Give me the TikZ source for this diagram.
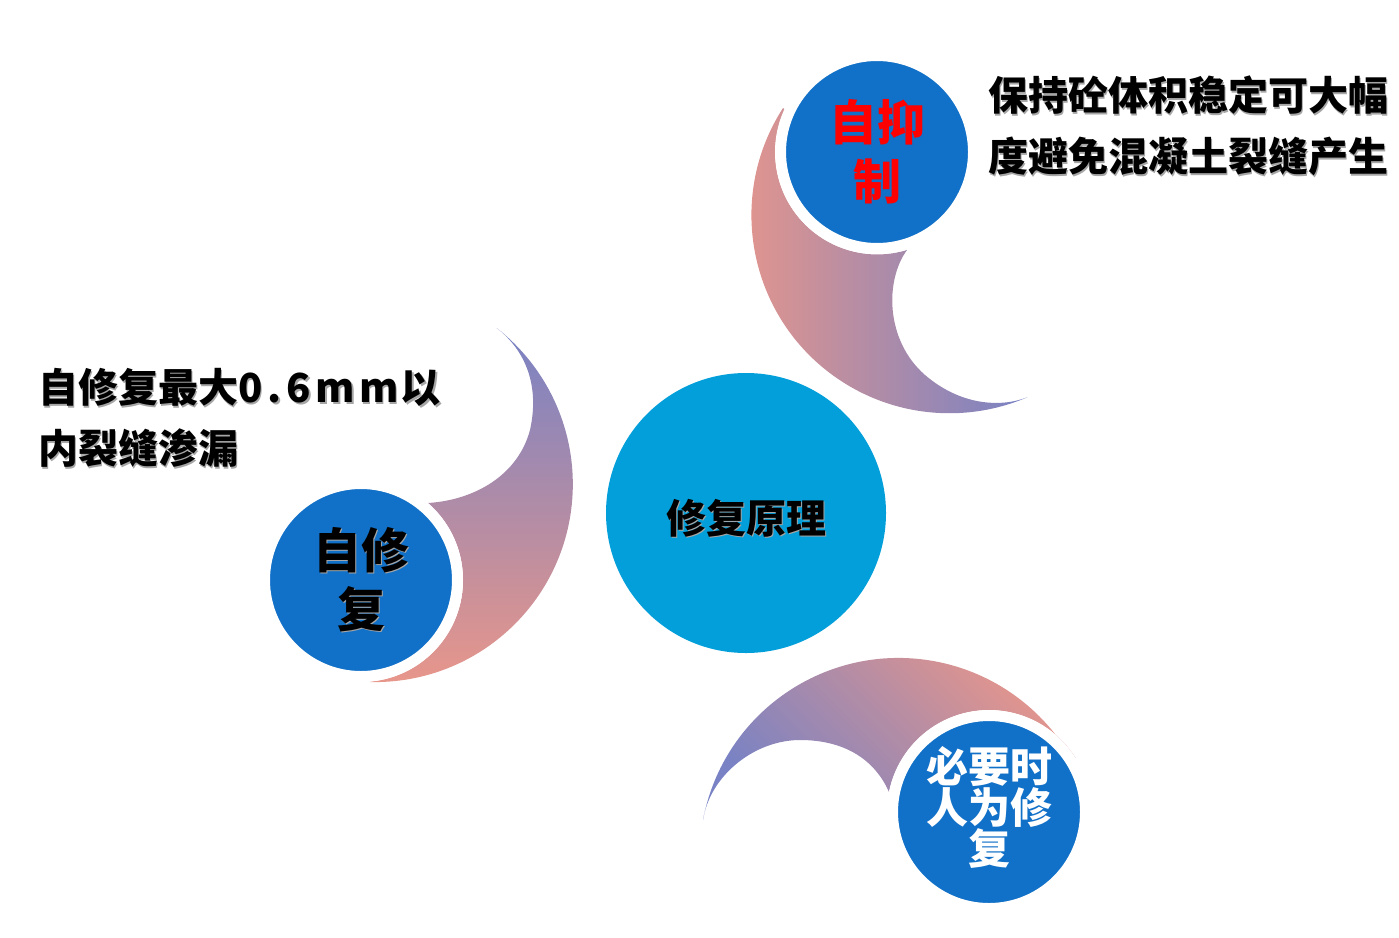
\documentclass[tikz,border=0pt]{standalone}
\usepackage{fontspec}
\setmainfont{Noto Sans CJK SC}

\definecolor{corecyan}{RGB}{2,159,218}
\definecolor{discblue}{RGB}{17,112,199}
\definecolor{swirlpink}{RGB}{232,150,138}
\definecolor{swirlblue}{RGB}{120,130,196}

% text with a soft drop shadow
\newcommand\shadowed[1]{\rlap{\kern1.5pt\raisebox{-1.5pt}{\color{black!35}#1}}#1}
% move text up or down without changing its box
\newcommand\nudge[2]{\raisebox{#1}[\height][\depth]{#2}}

\begin{document}
\begin{tikzpicture}[x=1pt, y=1pt]
    \tikzstyle{core}=[circle, fill=corecyan, minimum size=280pt, inner sep=0pt, font=\bfseries\fontsize{40}{48}\selectfont]
    \tikzstyle{disc}=[circle, fill=discblue, draw=white, line width=11pt, minimum size=193pt, inner sep=0pt, align=center, font=\bfseries\fontsize{48}{59}\selectfont]
    \tikzstyle{note}=[inner sep=0pt, anchor=west, align=left, font=\bfseries\fontsize{40}{61}\selectfont]

    \useasboundingbox (0,0) rectangle (1399,-937);

    % Draw the swirl behind the top disc
    \shade[left color=swirlpink, right color=swirlblue]
        (783,-108) arc[start angle=147.2, end angle=293.2, radius=198]
        .. controls (1000,-408) and (960,-405) .. (925,-375)
        .. controls (885,-340) and (885,-280) .. (907,-250)
        arc[start angle=-73, end angle=-205, radius=102] -- cycle;

    % Draw the swirl behind the left disc
    \shade[top color=swirlblue, bottom color=swirlpink]
        (370,-682) arc[start angle=-91.4, end angle=52, radius=198]
        .. controls (525,-350) and (540,-385) .. (530,-430)
        .. controls (518,-475) and (475,-500) .. (428,-503)
        arc[start angle=49, end angle=-85, radius=102] -- cycle;

    % Draw the swirl behind the bottom disc
    \shade[top color=swirlpink, bottom color=swirlblue, shading angle=-45]
        (703,-820) arc[start angle=169.3, end angle=29.1, radius=199]
        -- (1075.7,-758.3) arc[start angle=31.8, end angle=168.7, radius=102]
        .. controls (875,-760) and (845,-740) .. (800,-740)
        .. controls (755,-740) and (710,-775) .. (703,-820) -- cycle;

    % Draw the centre and the three discs
    \node[core] (core) at (746,-513) {\nudge{-6pt}{\shadowed{修复原理}}};
    \node[disc, text=red] (inhibit) at (877,-152) {自抑\\制};
    \node[disc] (selfheal) at (361,-580) {\shadowed{自修}\\\shadowed{复}};
    \node[disc, text=white, font=\bfseries\fontsize{42}{39}\selectfont] (manual) at (989,-812) {\nudge{5pt}{必要时}\\\nudge{5pt}{人为修}\\\nudge{5pt}{复}};

    % Draw the notes
    \node[note] (inhibittext) at (988,-127) {\shadowed{保持砼体积稳定可大幅}\\\shadowed{度避免混凝土裂缝产生}};
    \node[note] (healtext) at (38,-419) {\shadowed{自修复最大0\kern5pt.\kern5pt6\kern5pt m\kern4pt m\kern2pt 以}\\\shadowed{内裂缝渗漏}};

\end{tikzpicture}
\end{document}
